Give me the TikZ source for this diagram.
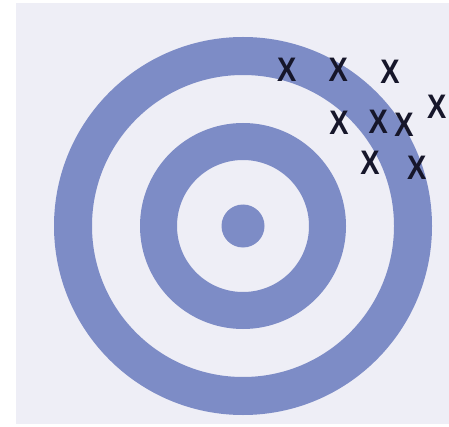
\documentclass[tikz,border=0pt]{standalone}
\usepackage{fontspec}
\setmainfont{Liberation Sans}
\definecolor{bgl}{HTML}{EEEEF6}
\definecolor{ring}{HTML}{7D8CC6}
\definecolor{mark}{HTML}{16162A}
\begin{document}
\begin{tikzpicture}[x=1pt,y=1pt,
  hit/.style={text=mark,inner sep=0pt,font=\fontsize{34}{34}\selectfont\bfseries,xscale=0.85}]
\useasboundingbox (0,0) rectangle (449,426);
\fill[white] (0,0) rectangle (449,426);
\fill[bgl] (16,2) rectangle (449,423);
\coordinate (c) at (243,200);
\fill[ring,even odd rule] (c) circle[radius=189] (c) circle[radius=151];
\fill[ring,even odd rule] (c) circle[radius=103] (c) circle[radius=66];
\fill[ring] (c) circle[radius=21.5];
\node[hit] (x1) at (286.7,426-69.5) {X};
\node[hit] (x2) at (338.3,426-69.5) {X};
\node[hit] (x3) at (390,426-71.7) {X};
\node[hit] (x4) at (436.7,426-106.7) {X};
\node[hit] (x5) at (339,426-123.3) {X};
\node[hit] (x6) at (378.3,426-121.7) {X};
\node[hit] (x7) at (404,426-125) {X};
\node[hit] (x8) at (370,426-163.3) {X};
\node[hit] (x9) at (416.7,426-168.3) {X};
\end{tikzpicture}
\end{document}
